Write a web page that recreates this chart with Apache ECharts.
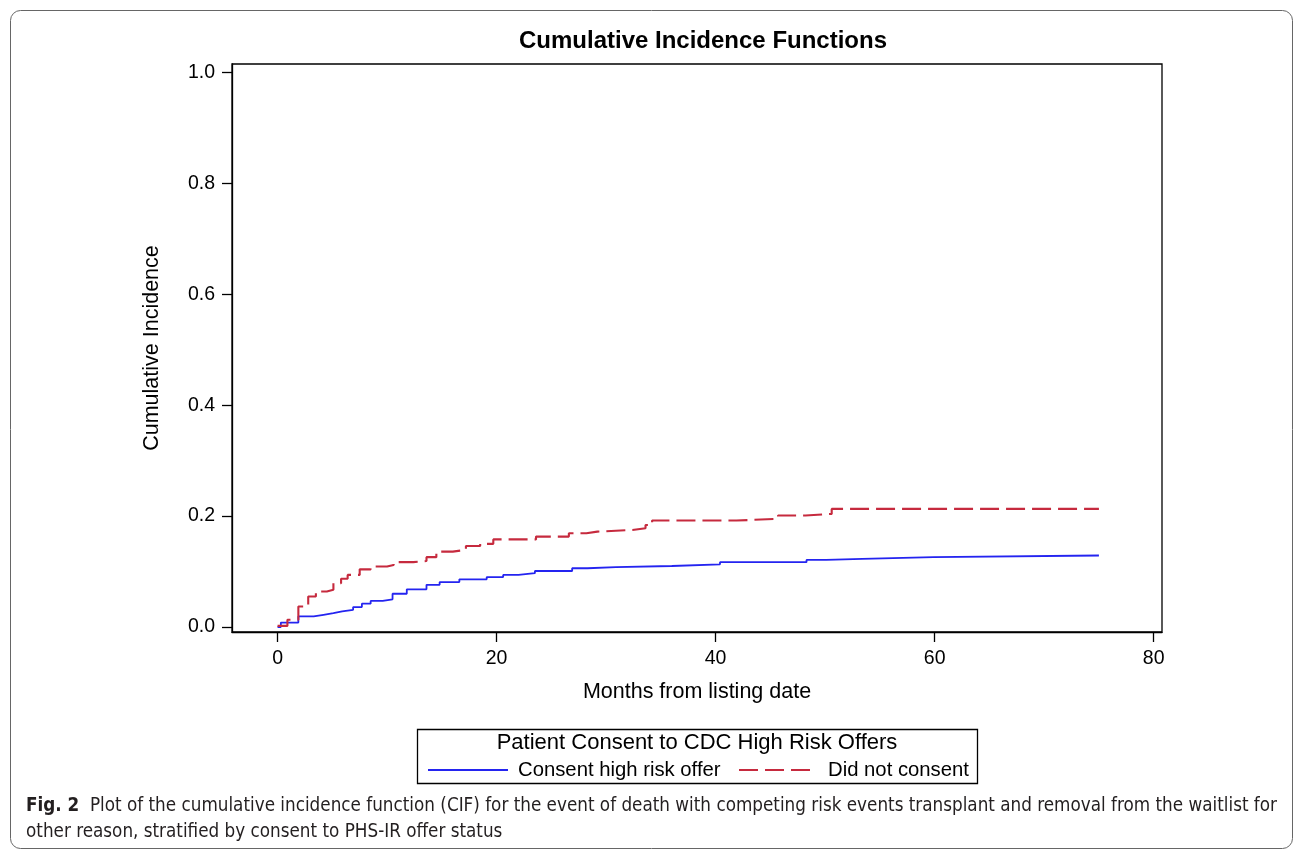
<!DOCTYPE html>
<html>
<head>
<meta charset="utf-8">
<style>html,body{margin:0;padding:0;background:#fff}#chart{width:1295px;height:850px}</style>
<script src="https://cdn.jsdelivr.net/npm/echarts@6/dist/echarts.min.js"></script>
</head>
<body>
<div id="chart"></div>
<script>
// step points: month of jump, CIF after jump
const consentMonths = [0, 0.3, 1.9, 3.3, 4.2, 5.1, 5.9, 6.9, 7.7, 8.5, 9.6, 10.5, 11.8, 13.6, 14.8, 16.6, 19.1, 20.6, 22, 23.5, 26.9, 28.3, 30.9, 36, 40.4, 48.3, 50.1, 53.4, 59.9, 75];
const consentCif = [0, 0.008, 0.019, 0.022, 0.025, 0.028, 0.031, 0.036, 0.042, 0.047, 0.050, 0.060, 0.068, 0.076, 0.081, 0.086, 0.090, 0.094, 0.097, 0.101, 0.106, 0.108, 0.110, 0.113, 0.117, 0.121, 0.123, 0.126, 0.129, 0.129];
const declineMonths = [0, 0.9, 1.9, 2.8, 3.5, 4.5, 5.1, 5.8, 6.4, 7.5, 8.5, 10, 10.6, 12.4, 13.6, 14.5, 16, 17.2, 18.5, 19.7, 23.6, 26.6, 28.2, 29.2, 32.4, 33.6, 34.2, 41.9, 45.7, 48.2, 50.6, 75];
const declineCif = [0.002, 0.013, 0.037, 0.055, 0.064, 0.067, 0.079, 0.087, 0.094, 0.104, 0.109, 0.112, 0.117, 0.119, 0.126, 0.136, 0.139, 0.146, 0.150, 0.158, 0.163, 0.169, 0.172, 0.175, 0.178, 0.184, 0.192, 0.195, 0.201, 0.204, 0.213, 0.213];

const xTicks = [0, 20, 40, 60, 80];
const yTicks = [0, 0.2, 0.4, 0.6, 0.8, 1.0];
const seriesNames = ["Consent high risk offer", "Did not consent"];
const legendTitle = "Patient Consent to CDC High Risk Offers";
const captionBold = "Fig. 2";
const captionLine1 = "Plot of the cumulative incidence function (CIF) for the event of death with competing risk events transplant and removal from the waitlist for";
const captionLine2 = "other reason, stratified by consent to PHS-IR offer status";

const zip = (xs, ys) => xs.map((x, i) => [x, ys[i]]);
const font = "'Liberation Sans', Arial, sans-serif";
const capFont = "'DejaVu Sans Condensed', 'DejaVu Sans', sans-serif";

// squeeze the caption so the first line spans the same width as the original
const capSize = 19;
const ctx = document.createElement("canvas").getContext("2d");
ctx.font = "bold " + capSize + "px " + capFont;
let capW = ctx.measureText(captionBold + "  ").width;
ctx.font = capSize + "px " + capFont;
capW += ctx.measureText(captionLine1).width;
const capScale = Math.min(1, 1252 / capW);

const myChart = echarts.init(document.getElementById("chart"));

let option = {
  backgroundColor: "#fff",
  animation: false,
  title: {
    text: "Cumulative Incidence Functions",
    left: 698,
    textAlign: "center",
    top: 24,
    textStyle: { fontFamily: font, fontSize: 24, fontWeight: "bold", color: "#000" }
  },
  grid: {
    left: 232, right: 133, top: 64, bottom: 218,
    show: true, borderColor: "#000", borderWidth: 1.3, backgroundColor: "transparent"
  },
  xAxis: {
    type: "value",
    min: -4.16, max: 80.76,
    name: "Months from listing date",
    nameLocation: "middle",
    nameGap: 49,
    nameTextStyle: { fontFamily: font, fontSize: 21.5, color: "#000" },
    axisLine: { show: true, onZero: false, lineStyle: { color: "#000", width: 1.3 } },
    axisTick: { show: true, length: 10, customValues: xTicks, lineStyle: { color: "#000", width: 1.3 } },
    axisLabel: { customValues: xTicks, fontFamily: font, fontSize: 19.5, color: "#000", margin: 17 },
    splitLine: { show: false }
  },
  yAxis: {
    type: "value",
    min: -0.009, max: 1.0153,
    name: "Cumulative Incidence",
    nameLocation: "middle",
    nameGap: 69,
    nameTextStyle: { fontFamily: font, fontSize: 21.5, color: "#000" },
    axisLine: { show: true, onZero: false, lineStyle: { color: "#000", width: 1.3 } },
    axisTick: { show: true, length: 10, customValues: yTicks, lineStyle: { color: "#000", width: 1.3 } },
    axisLabel: {
      customValues: yTicks, fontFamily: font, fontSize: 19.5, color: "#000", margin: 17,
      formatter: v => v.toFixed(1)
    },
    splitLine: { show: false }
  },
  legend: [
    {
      data: [seriesNames[0]], left: 427, top: 760, padding: 0, itemWidth: 80, itemHeight: 20,
      itemStyle: { opacity: 0 },
      textStyle: { fontFamily: font, fontSize: 20.3, color: "#000", padding: [0, 0, 0, 5] }
    },
    {
      data: [seriesNames[1]], left: 738, top: 760, padding: 0, itemWidth: 72, itemHeight: 20,
      itemStyle: { opacity: 0 },
      textStyle: { fontFamily: font, fontSize: 20.3, color: "#000", padding: [0, 0, 0, 12] }
    }
  ],
  graphic: [
    {
      type: "rect", silent: true,
      shape: { x: 417.5, y: 729.5, width: 560, height: 54 },
      style: { fill: "none", stroke: "#000", lineWidth: 1.3 }
    },
    {
      type: "text", silent: true, x: 697, y: 743,
      style: { text: legendTitle, font: "22px " + font, fill: "#000", align: "center", verticalAlign: "middle" }
    },
    {
      type: "rect", silent: true,
      shape: { x: 10.5, y: 10.5, width: 1282, height: 838, r: 10 },
      style: { fill: "none", stroke: "#666", lineWidth: 1 }
    },
    {
      type: "text", silent: true, x: 26, y: 806, scaleX: capScale,
      style: {
        text: "{b|" + captionBold + "}  " + captionLine1,
        font: capSize + "px " + capFont, fill: "#231f20", verticalAlign: "middle",
        rich: { b: { font: "bold " + capSize + "px " + capFont, fill: "#231f20" } }
      }
    },
    {
      type: "text", silent: true, x: 26, y: 832, scaleX: capScale,
      style: { text: captionLine2, font: capSize + "px " + capFont, fill: "#231f20", verticalAlign: "middle" }
    }
  ],
  series: [
    {
      name: seriesNames[0],
      type: "line",
      step: "end",
      symbol: "none",
      color: "#2424f0",
      lineStyle: { width: 1.8, color: "#2424f0" },
      data: zip(consentMonths, consentCif)
    },
    {
      name: seriesNames[1],
      type: "line",
      step: "end",
      symbol: "none",
      color: "#c62a3e",
      lineStyle: { width: 2.1, color: "#c62a3e", type: [19, 7] },
      data: zip(declineMonths, declineCif)
    }
  ]
};

myChart.setOption(option);
</script>
</body>
</html>
